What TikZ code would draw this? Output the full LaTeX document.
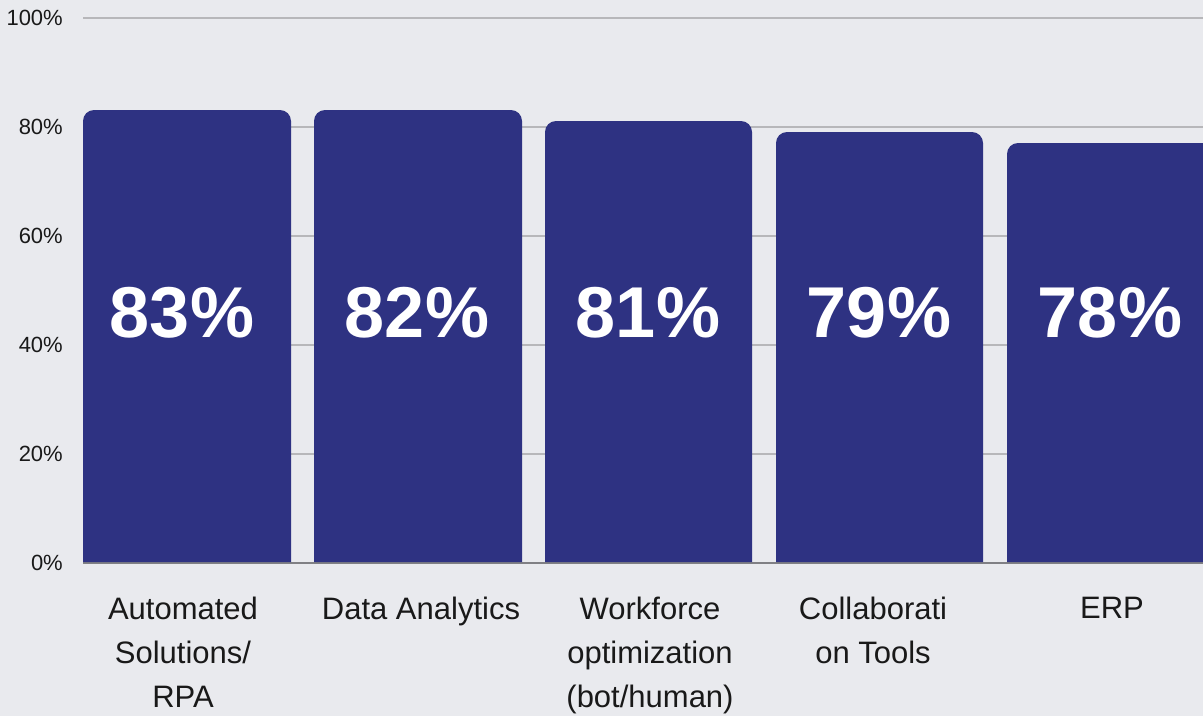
\documentclass[tikz,border=0pt]{standalone}
\usepackage{fontspec}
\setmainfont{Liberation Sans}
\definecolor{chartbg}{RGB}{233,234,238}
\definecolor{barblue}{RGB}{46,50,130}
\definecolor{gridgray}{RGB}{183,183,186}
\definecolor{axisgray}{RGB}{128,128,132}
\definecolor{labelink}{RGB}{25,25,25}

\begin{document}
\begin{tikzpicture}[x=1pt,y=-1pt,
	gridline/.style={gridgray,line width=2pt},
	ticklabel/.style={anchor=east,inner sep=0pt,text=labelink,font=\fontsize{22}{26}\selectfont},
	catlabel/.style={anchor=north,inner sep=0pt,align=center,text=labelink,font=\fontsize{31}{44}\selectfont},
	valuelabel/.style={text=white,inner sep=0pt,font=\fontsize{72}{84}\selectfont\bfseries}]
	\fill[chartbg] (0,0) rectangle (1203,716);
	\useasboundingbox (0,0) rectangle (1203,716);

	\draw[gridline] (83,18)--(1203,18);
	\draw[gridline] (83,127)--(1203,127);
	\draw[gridline] (83,236)--(1203,236);
	\draw[gridline] (83,345)--(1203,345);
	\draw[gridline] (83,454)--(1203,454);
	\draw[axisgray,line width=2pt] (83,563)--(1203,563);

	\node[ticklabel] (t100) at (63,18) {100\%};
	\node[ticklabel] (t80) at (63,127) {80\%};
	\node[ticklabel] (t60) at (63,236) {60\%};
	\node[ticklabel] (t40) at (63,345) {40\%};
	\node[ticklabel] (t20) at (63,454) {20\%};
	\node[ticklabel] (t0) at (63,563) {0\%};

	\fill[barblue] (83,562) [rounded corners=11pt] -- (83,110) -- (291,110) [sharp corners] -- (291,562) -- cycle;
	\fill[barblue] (314,562) [rounded corners=11pt] -- (314,110) -- (522,110) [sharp corners] -- (522,562) -- cycle;
	\fill[barblue] (545,562) [rounded corners=11pt] -- (545,121) -- (752,121) [sharp corners] -- (752,562) -- cycle;
	\fill[barblue] (776,562) [rounded corners=11pt] -- (776,132) -- (983,132) [sharp corners] -- (983,562) -- cycle;
	\fill[barblue] (1007,562) [rounded corners=11pt] -- (1007,143) -- (1214,143) [sharp corners] -- (1214,562) -- cycle;

	\node[valuelabel] (v1) at (182,313) {83\%};
	\node[valuelabel] (v2) at (417,313) {82\%};
	\node[valuelabel] (v3) at (648,313) {81\%};
	\node[valuelabel] (v4) at (879,313) {79\%};
	\node[valuelabel] (v5) at (1110,313) {78\%};

	\node[catlabel] (c1) at (183,597) {Automated\\Solutions/\\RPA};
	\node[catlabel] (c2) at (421,597) {Data Analytics};
	\node[catlabel] (c3) at (650,597) {Workforce\\optimization\\(bot/human)};
	\node[catlabel] (c4) at (873,597) {Collaborati\\on Tools};
	\node[catlabel] (c5) at (1112,597) {ERP};
\end{tikzpicture}
\end{document}
